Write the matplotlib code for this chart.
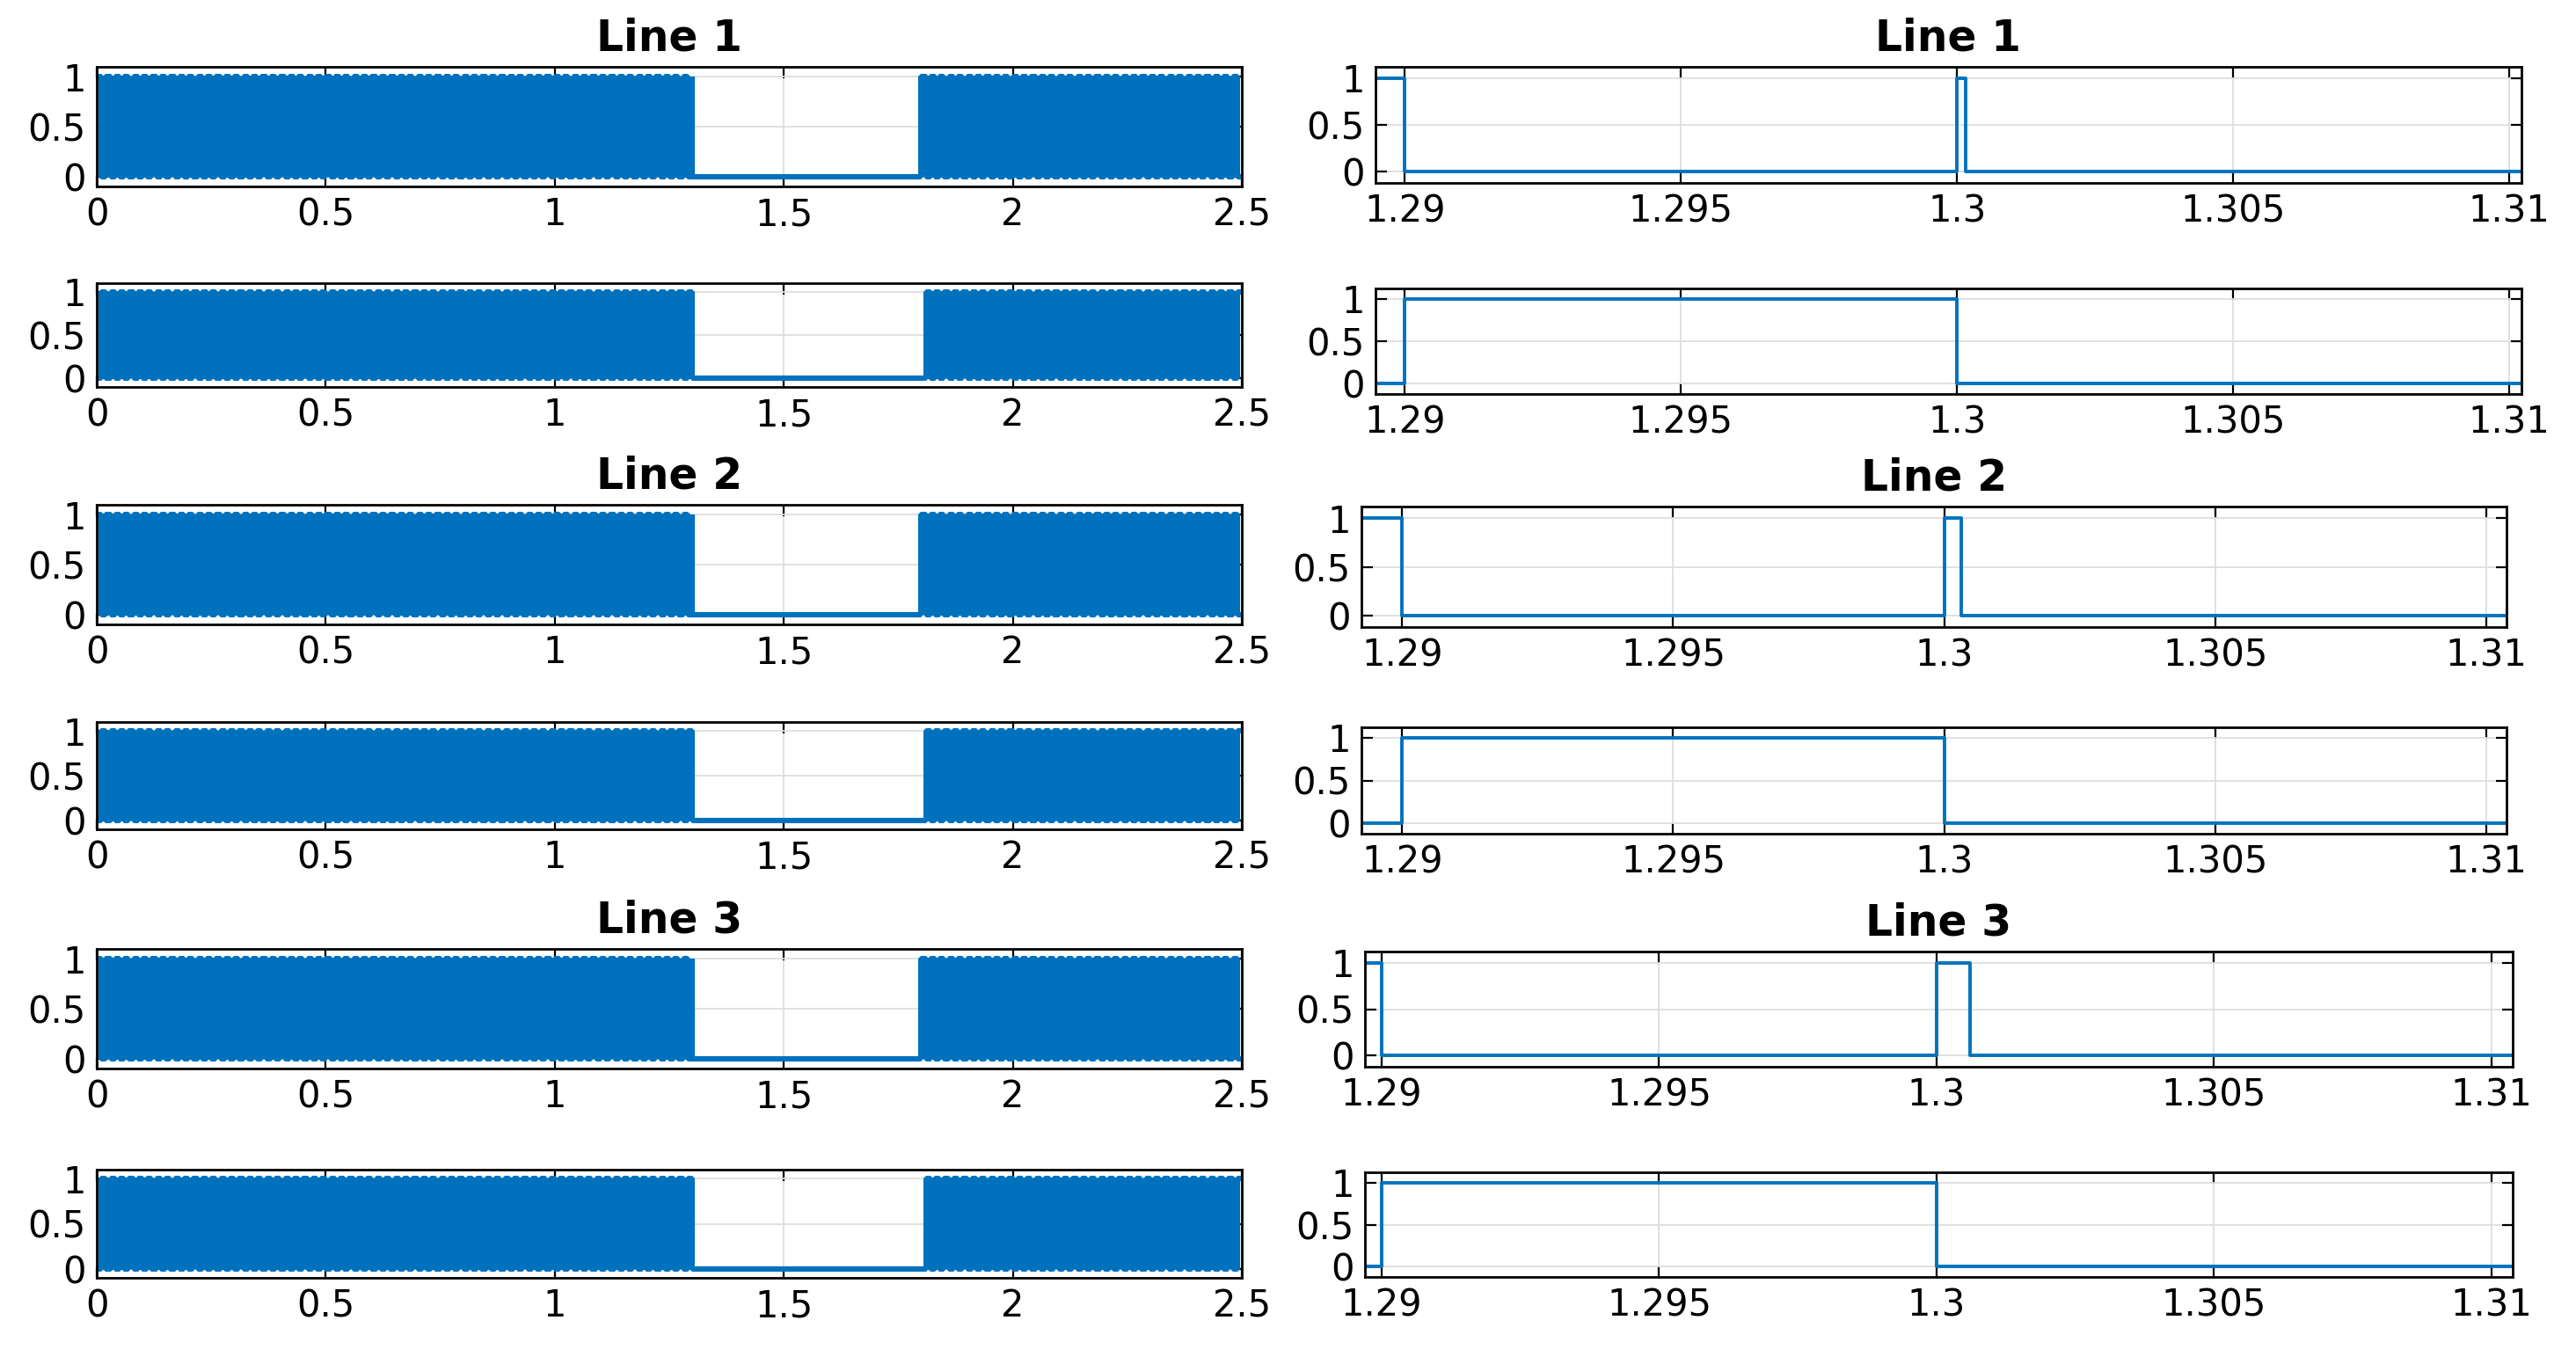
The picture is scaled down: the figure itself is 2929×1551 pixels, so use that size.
import numpy as np
import matplotlib
matplotlib.use("Agg")
import matplotlib.pyplot as plt

# ---------------- data ----------------
line_titles = ["Line 1", "Line 2", "Line 3"]
half_period = 0.01          # each gate alternates every 0.01 s
t_stop = 2.5
block_start = 1.3           # gates blocked from 1.3 s ...
block_end = 1.8             # ... until 1.8 s
upper_spike_width = [0.00015, 0.00032, 0.0006]   # short pulse of upper gate at 1.3 s

left_xticks = [0, 0.5, 1, 1.5, 2, 2.5]
left_xticklabels = ["0", "0.5", "1", "1.5", "2", "2.5"]
right_xticks = [1.29, 1.295, 1.3, 1.305, 1.31]
right_xticklabels = ["1.29", "1.295", "1.3", "1.305", "1.31"]
yticks = [0, 0.5, 1]
yticklabels = ["0", "0.5", "1"]

# zoom window of each right-hand row (row pairs)
right_xlims = [(1.28947, 1.31022), (1.28925, 1.31037), (1.2897, 1.31038)]


def gate_signal(upper, spike):
    n = int(round(t_stop / half_period))
    t, y = [], []
    for i in range(n):
        t0 = round(i * half_period, 6)
        on = (i % 2 == 0) if upper else (i % 2 == 1)
        if block_start - 1e-9 <= t0 < block_end - 1e-9:
            on = False
        t.append(t0)
        y.append(1 if on else 0)
    t.append(t_stop)
    y.append(y[-1])
    if upper:
        k = t.index(block_start)
        y[k] = 1
        t.insert(k + 1, round(block_start + spike, 6))
        y.insert(k + 1, 0)
    return np.array(t), np.array(y)


# ---------------- layout (pixels of the 2929x1551 image) ----------------
W, H = 2929, 1551
left_boxes = [(110, 1412, 76, 212), (110, 1412, 322, 440), (110, 1412, 574, 710),
              (110, 1412, 821, 943), (110, 1412, 1079, 1215), (110, 1412, 1330, 1453)]
right_boxes = [(1564, 2867, 76, 208), (1564, 2867, 328, 448), (1548, 2850, 576, 713),
               (1548, 2850, 827, 948), (1552, 2857, 1082, 1213), (1552, 2857, 1333, 1452)]

plt.rcParams["font.family"] = ["DejaVu Sans"]
color = "#0072BD"
tick_fs = 30
title_fs = 35

fig = plt.figure(figsize=(W / 100, H / 100), dpi=100)


def make_axes(box):
    x0, x1, top, bot = box
    return fig.add_axes([x0 / W, 1 - bot / H, (x1 - x0) / W, (bot - top) / H])


def style(ax):
    ax.set_axisbelow(True)
    ax.grid(True, color="#DEDEDE", linewidth=1.3)
    for s in ax.spines.values():
        s.set_linewidth(2.0)
        s.set_color("black")
    ax.tick_params(direction="in", length=9, width=1.6, top=True, right=True,
                   labelsize=tick_fs, colors="black")
    ax.tick_params(axis="x", pad=8)
    ax.tick_params(axis="y", pad=9)
    ax.set_yticks(yticks)
    ax.set_yticklabels(yticklabels)


for row in range(6):
    line = row // 2
    upper = (row % 2 == 0)
    t, y = gate_signal(upper, upper_spike_width[line])

    axl = make_axes(left_boxes[row])
    axl.plot(t, y, drawstyle="steps-post", color=color, linewidth=4.4,
             solid_joinstyle="bevel")
    axl.set_xlim(0, 2.5)
    axl.set_ylim(-0.1, 1.1)
    axl.set_xticks(left_xticks)
    axl.set_xticklabels(left_xticklabels)
    style(axl)

    axr = make_axes(right_boxes[row])
    axr.plot(t, y, drawstyle="steps-post", color=color, linewidth=2.8)
    axr.set_xlim(*right_xlims[line])
    axr.set_ylim(-0.12, 1.12)
    axr.set_xticks(right_xticks)
    axr.set_xticklabels(right_xticklabels)
    style(axr)

    if upper:
        axl.set_title(line_titles[line], fontsize=title_fs, fontweight="bold", pad=13)
        axr.set_title(line_titles[line], fontsize=title_fs, fontweight="bold", pad=13)

fig.savefig("out.png", dpi=100, facecolor="white")
